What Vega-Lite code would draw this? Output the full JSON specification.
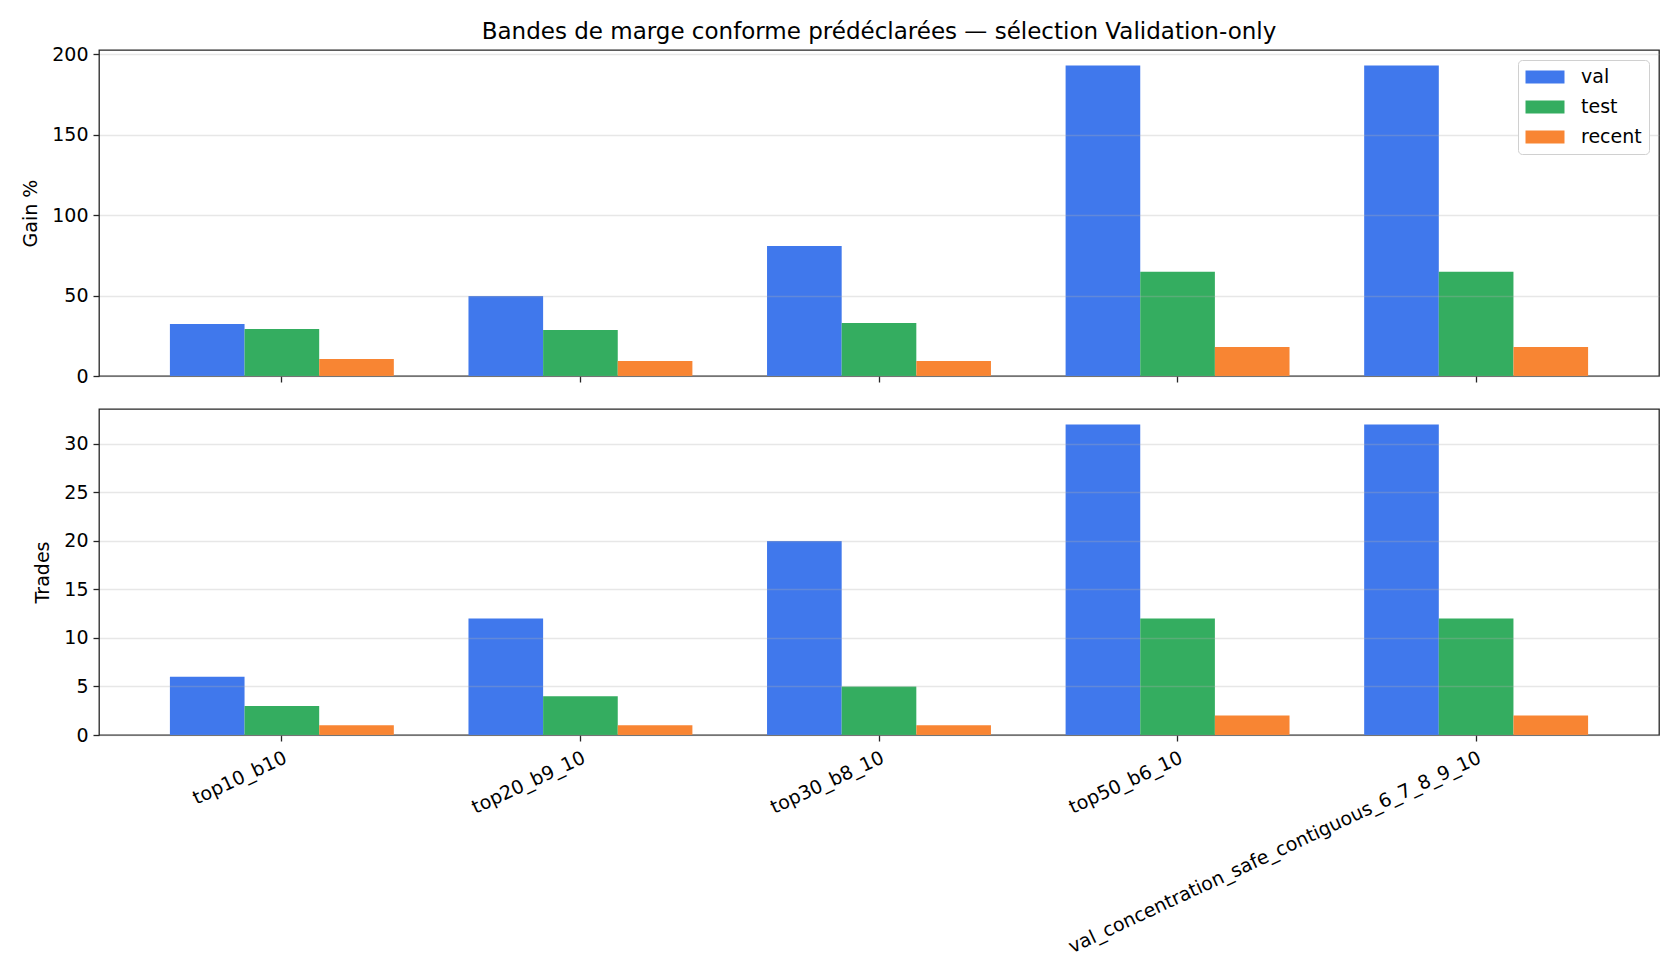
{
  "$schema": "https://vega.github.io/schema/vega-lite/v6.json",
  "padding": {"left": 21, "top": 20, "right": 5, "bottom": 5},
  "background": "white",
  "config": {
    "font": "DejaVu Sans",
    "view": {"stroke": "#262626", "strokeWidth": 1.3},
    "axis": {"labelFont": "DejaVu Sans", "titleFont": "DejaVu Sans", "labelFontSize": 19, "titleFontSize": 19, "titleFontWeight": "normal", "labelColor": "black", "titleColor": "black", "tickColor": "#262626", "tickSize": 6, "tickWidth": 1.3, "domain": false, "labelPadding": 5}
  },
  "title": {"text": "Bandes de marge conforme prédéclarées — sélection Validation-only", "fontSize": 23, "fontWeight": "normal", "font": "DejaVu Sans", "color": "black", "anchor": "middle", "frame": "group", "offset": 1},
  "data": {"values": [
    {"config": "top10_b10", "series": "val", "gain": 32.4, "trades": 6},
    {"config": "top10_b10", "series": "test", "gain": 29.3, "trades": 3},
    {"config": "top10_b10", "series": "recent", "gain": 10.6, "trades": 1},
    {"config": "top20_b9_10", "series": "val", "gain": 49.8, "trades": 12},
    {"config": "top20_b9_10", "series": "test", "gain": 28.6, "trades": 4},
    {"config": "top20_b9_10", "series": "recent", "gain": 9.3, "trades": 1},
    {"config": "top30_b8_10", "series": "val", "gain": 80.9, "trades": 20},
    {"config": "top30_b8_10", "series": "test", "gain": 33.0, "trades": 5},
    {"config": "top30_b8_10", "series": "recent", "gain": 9.3, "trades": 1},
    {"config": "top50_b6_10", "series": "val", "gain": 193.0, "trades": 32},
    {"config": "top50_b6_10", "series": "test", "gain": 64.8, "trades": 12},
    {"config": "top50_b6_10", "series": "recent", "gain": 18.0, "trades": 2},
    {"config": "val_concentration_safe_contiguous_6_7_8_9_10", "series": "val", "gain": 193.0, "trades": 32},
    {"config": "val_concentration_safe_contiguous_6_7_8_9_10", "series": "test", "gain": 64.8, "trades": 12},
    {"config": "val_concentration_safe_contiguous_6_7_8_9_10", "series": "recent", "gain": 18.0, "trades": 2}
  ]},
  "spacing": 21,
  "vconcat": [
    {
      "width": 1560,
      "height": 326,
      "mark": {"type": "bar"},
      "encoding": {
        "x": {"field": "config", "type": "nominal", "sort": null, "scale": {"paddingInner": 0.25, "paddingOuter": 0.2375}, "axis": {"labels": false, "title": null, "ticks": true, "grid": false}},
        "xOffset": {"field": "series", "type": "nominal", "scale": {"domain": ["val", "test", "recent"], "paddingInner": 0, "paddingOuter": 0}},
        "y": {"field": "gain", "type": "quantitative", "scale": {"domain": [0, 202.7], "nice": false, "zero": true}, "axis": {"title": "Gain %", "values": [0, 50, 100, 150, 200], "grid": true, "gridColor": "#b0b0b0", "gridOpacity": 0.3, "gridWidth": 1.3, "zindex": 1, "titlePadding": 11}},
        "color": {"field": "series", "type": "nominal", "scale": {"domain": ["val", "test", "recent"], "range": ["#4078EC", "#34AD60", "#F88533"]}, "legend": {"title": null, "orient": "top-right", "offset": 10, "padding": 7, "fillColor": "white", "strokeColor": "#d0d0d0", "cornerRadius": 4, "labelFontSize": 19, "labelFont": "DejaVu Sans", "labelColor": "black", "symbolType": "M-2,-0.667L2,-0.667L2,0.667L-2,0.667Z", "symbolSize": 380, "symbolOffset": 10, "symbolStrokeWidth": 0, "symbolOpacity": 1, "labelOffset": 26, "rowPadding": 10}}
      }
    },
    {
      "width": 1560,
      "height": 326,
      "mark": {"type": "bar"},
      "encoding": {
        "x": {"field": "config", "type": "nominal", "sort": null, "scale": {"paddingInner": 0.25, "paddingOuter": 0.2375}, "axis": {"title": null, "labelAngle": -25, "labelAlign": "right", "labelBaseline": "top", "labelPadding": 7, "labelDx": -4, "grid": false, "labelLimit": 0}},
        "xOffset": {"field": "series", "type": "nominal", "scale": {"domain": ["val", "test", "recent"], "paddingInner": 0, "paddingOuter": 0}},
        "y": {"field": "trades", "type": "quantitative", "scale": {"domain": [0, 33.6], "nice": false, "zero": true}, "axis": {"title": "Trades", "values": [0, 5, 10, 15, 20, 25, 30], "grid": true, "gridColor": "#b0b0b0", "gridOpacity": 0.3, "gridWidth": 1.3, "zindex": 1, "titlePadding": 11}},
        "color": {"field": "series", "type": "nominal", "scale": {"domain": ["val", "test", "recent"], "range": ["#4078EC", "#34AD60", "#F88533"]}, "legend": null}
      }
    }
  ]
}
